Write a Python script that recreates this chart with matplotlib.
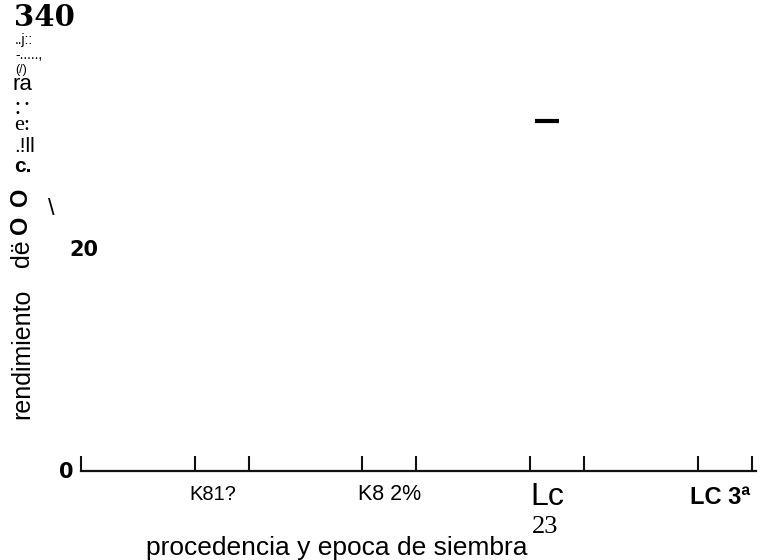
import numpy as np
import matplotlib
matplotlib.use('Agg')
import matplotlib.pyplot as plt

# categories on the x axis (as printed)
categories = ['K81?', 'K8 2%', 'Lc', 'LC 3ª']
# each category has two sowing dates -> two ticks per group
pair_offsets = [-0.161, 0.161]
# the single visible mark (rendimiento, Lc group)
mark_group = 2
mark_value = 31.7
y_labels = [0, 20]

W, H = 760, 560
fig = plt.figure(figsize=(W / 100, H / 100), dpi=100)
fig.patch.set_facecolor('white')

# axes: 0 at y=471px, 20 at y=250px
px_per_unit_y = (471 - 250) / 20
px_per_group = 167.7
ax = fig.add_axes([81 / W, (H - 471) / H, 1 - 81 / W, 471 / H])
ax.set_facecolor('none')
x_left = -0.838
ax.set_xlim(x_left, x_left + (W - 81) / px_per_group)
ax.set_ylim(0, 471 / px_per_unit_y)

for s in ['top', 'right', 'left']:
    ax.spines[s].set_visible(False)
ax.spines['bottom'].set_linewidth(1.6)
ax.spines['bottom'].set_color('#111111')
ax.spines['bottom'].set_bounds(x_left, 3.19)

groups = np.arange(len(categories))
ticks = [x_left] + [g + o for g in groups for o in pair_offsets]
ax.set_xticks(ticks)
ax.set_xticklabels([])
ax.tick_params(axis='x', direction='in', length=11, width=1.5, color='#111111')
ax.set_yticks([])

# the mark
ax.hlines(mark_value, mark_group - 0.13, mark_group + 0.015, color='black', lw=3)

# category labels
lab_y = -(495 - 471) / px_per_unit_y
ax.text(groups[0] - 0.05, lab_y, categories[0], ha='center', va='center',
        fontsize=14.5, family='Liberation Sans', clip_on=False)
ax.text(groups[1], lab_y, categories[1], ha='center', va='center',
        fontsize=15.5, family='Liberation Sans', clip_on=False)
ax.text(groups[2] - 0.06, lab_y - 0.2, categories[2], ha='center', va='center',
        fontsize=23, family='Liberation Sans', clip_on=False)
ax.text(groups[2] - 0.07, -(527 - 471) / px_per_unit_y, '23', ha='center', va='center',
        fontsize=19, family='Liberation Serif', clip_on=False)
ax.text(groups[3] - 0.03, lab_y - 0.2, categories[3], ha='center', va='center',
        fontsize=17, family='Liberation Sans', fontweight='bold', clip_on=False)

# y labels (scanned text, placed by hand next to the axis)
ax.text(-0.925, y_labels[0] - 0.1, str(y_labels[0]), ha='center', va='center',
        fontsize=15, fontweight='bold', family='DejaVu Sans', clip_on=False)
ax.text(-0.82, y_labels[1], str(y_labels[1]), ha='center', va='center',
        fontsize=15, fontweight='bold', family='DejaVu Sans', clip_on=False)

# x axis title
fig.text(337 / W, 1 - 548 / H, 'procedencia y epoca de siembra', ha='center', va='center',
         fontsize=19, family='Liberation Sans')


def ftext(x, y, s, **kw):
    fig.text(x / W, 1 - y / H, s, **kw)


# garbled scan text on the left
ftext(14, 18, '340', ha='left', va='center', fontsize=21, fontweight='bold', family='DejaVu Serif')
ftext(15, 40, '..j::', ha='left', va='center', fontsize=10, family='Liberation Sans')
ftext(15, 55, '-.....,', ha='left', va='center', fontsize=10, family='Liberation Sans')
ftext(15, 70, '(/)', ha='left', va='center', fontsize=9, family='Liberation Sans')
ftext(13, 85, 'ra', ha='left', va='center', fontsize=16, family='Liberation Sans')
ftext(15, 104, '• •', ha='left', va='center', fontsize=7, family='DejaVu Sans')
ftext(15, 113, '•', ha='left', va='center', fontsize=7, family='DejaVu Sans')
ftext(14, 126, 'e:', ha='left', va='center', fontsize=16, family='Liberation Serif')
ftext(14, 146, '.!ll', ha='left', va='center', fontsize=15, family='Liberation Sans')
ftext(14, 167, 'c.', ha='left', va='center', fontsize=15, fontweight='bold', family='Liberation Sans')
ftext(21, 197, 'O', ha='center', va='center', fontsize=17, fontweight='bold',
      family='Liberation Sans', rotation=90)
ftext(21, 225, 'O', ha='center', va='center', fontsize=17, fontweight='bold',
      family='Liberation Sans', rotation=90)
ftext(22, 253, 'dë', ha='center', va='center', fontsize=18, family='Liberation Sans', rotation=90)
ftext(22, 354, 'rendimiento', ha='center', va='center', fontsize=18,
      family='Liberation Sans', rotation=90)
ftext(51, 209, '\\', ha='center', va='center', fontsize=17, family='Liberation Sans')

fig.savefig('out.png', dpi=100, facecolor='white')
